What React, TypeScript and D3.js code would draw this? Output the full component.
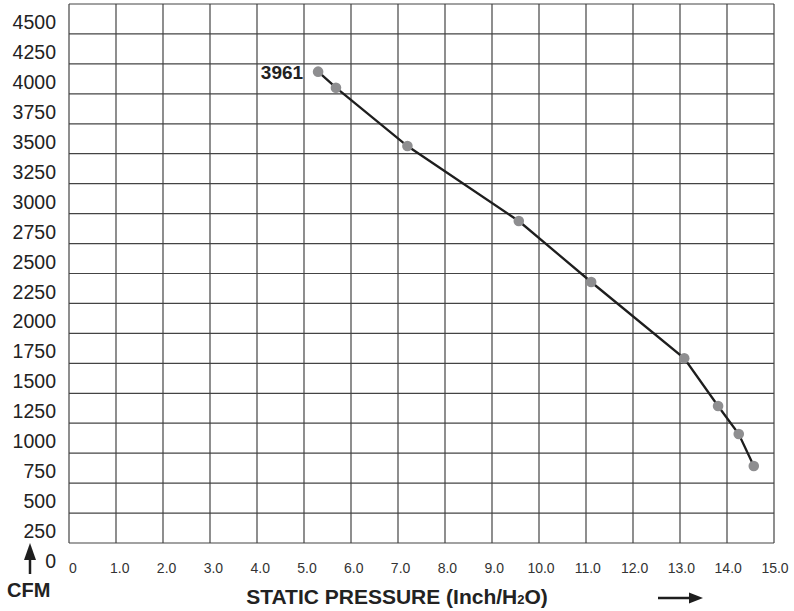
import { useRef, useEffect } from "react";
import * as d3 from "d3";

const pressure = [5.3, 5.68, 7.2, 9.57, 11.11, 13.09, 13.81, 14.25, 14.57];
const cfm = [3935, 3801, 3314, 2688, 2179, 1542, 1144, 910, 643];
const yTicks = d3.range(0, 4501, 250);
const xTicks = d3.range(0, 16, 1);
const peakLabel = "3961";

const App = () => {
  const chartRef = useRef(null);

  useEffect(() => {
    const el = chartRef.current;
    const width = 794;
    const height = 611;
    const left = 69;
    const right = 774;
    const top = 4;
    const bottom = 543;

    const svg = d3
      .select(el)
      .append("svg")
      .attr("width", width)
      .attr("height", height)
      .style("position", "absolute")
      .style("left", "0px")
      .style("top", "0px")
      .style("font-family", "'Liberation Sans', Arial, sans-serif");

    const x = d3.scaleLinear().domain([0, 15]).range([left, right]);
    const y = d3.scaleLinear().domain([0, 4500]).range([bottom, top]);

    const grid = svg.append("g").attr("stroke", "#444").attr("stroke-width", 1.2);
    grid
      .selectAll("line.h")
      .data(yTicks)
      .enter()
      .append("line")
      .attr("x1", left)
      .attr("x2", right)
      .attr("y1", d => y(d))
      .attr("y2", d => y(d));
    grid
      .selectAll("line.v")
      .data(xTicks)
      .enter()
      .append("line")
      .attr("x1", d => x(d))
      .attr("x2", d => x(d))
      .attr("y1", top)
      .attr("y2", bottom);

    // y labels sit about half a cell below their gridline in the original
    svg
      .append("g")
      .selectAll("text")
      .data(yTicks)
      .enter()
      .append("text")
      .attr("x", 56)
      .attr("y", d => y(d) + 25)
      .attr("text-anchor", "end")
      .attr("font-size", 19.5)
      .attr("fill", "#222")
      .text(d => d);

    svg
      .append("g")
      .selectAll("text")
      .data(xTicks)
      .enter()
      .append("text")
      .attr("x", d => x(d) + 4 - d * 0.2)
      .attr("y", 573)
      .attr("text-anchor", "middle")
      .attr("font-size", 14)
      .attr("fill", "#333")
      .text(d => (d === 0 ? "0" : d.toFixed(1)));

    const pts = pressure.map((p, i) => [p, cfm[i]] as [number, number]);
    const line = d3
      .line<[number, number]>()
      .x(d => x(d[0]))
      .y(d => y(d[1]));

    svg
      .append("path")
      .attr("d", line(pts))
      .attr("fill", "none")
      .attr("stroke", "#1e1e1e")
      .attr("stroke-width", 2.3);

    svg
      .append("g")
      .selectAll("circle")
      .data(pts)
      .enter()
      .append("circle")
      .attr("cx", d => x(d[0]))
      .attr("cy", d => y(d[1]))
      .attr("r", 5.3)
      .attr("fill", "#8e8e90");

    svg
      .append("text")
      .attr("x", x(pts[0][0]) - 15)
      .attr("y", y(pts[0][1]) + 7)
      .attr("text-anchor", "end")
      .attr("font-size", 19)
      .attr("font-weight", "bold")
      .attr("fill", "#222")
      .text(peakLabel);

    const title = svg
      .append("text")
      .attr("x", 397)
      .attr("y", 604)
      .attr("text-anchor", "middle")
      .attr("font-size", 21)
      .attr("font-weight", "bold")
      .attr("fill", "#222");
    title.append("tspan").text("STATIC PRESSURE (Inch/H");
    title.append("tspan").attr("font-size", 13).text("2");
    title.append("tspan").text("O)");

    svg
      .append("text")
      .attr("x", 7)
      .attr("y", 597)
      .attr("font-size", 20)
      .attr("font-weight", "bold")
      .attr("fill", "#222")
      .text("CFM");

    // arrows
    svg
      .append("line")
      .attr("x1", 658)
      .attr("x2", 692)
      .attr("y1", 598)
      .attr("y2", 598)
      .attr("stroke", "#1e1e1e")
      .attr("stroke-width", 2.5);
    svg
      .append("path")
      .attr("d", "M689,592.5 L703,598 L689,603.5 Z")
      .attr("fill", "#1e1e1e");
    svg
      .append("line")
      .attr("x1", 30)
      .attr("x2", 30)
      .attr("y1", 574)
      .attr("y2", 557)
      .attr("stroke", "#1e1e1e")
      .attr("stroke-width", 2.5);
    svg
      .append("path")
      .attr("d", "M24,560 L30,543 L36,560 Z")
      .attr("fill", "#1e1e1e");

    return () => {
      d3.select(el).select("svg").remove();
    };
  }, []);

  return <div ref={chartRef}></div>;
};

export default App;
